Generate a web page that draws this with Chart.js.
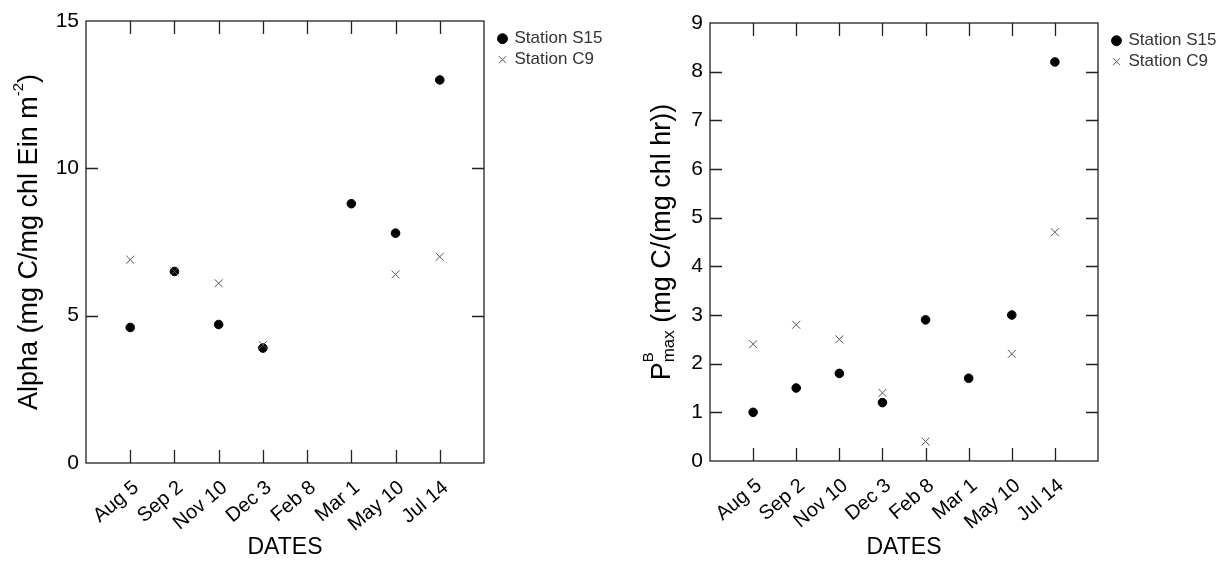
<!DOCTYPE html>
<html>
<head>
<meta charset="utf-8">
<script src="https://cdn.jsdelivr.net/npm/chart.js@4.4.1/dist/chart.umd.min.js"></script>
<style>
  html, body { margin: 0; padding: 0; background: #fff; }
  .box { position: absolute; top: 0; width: 614px; height: 561px; }
</style>
</head>
<body>
<div class="box" style="left:0"><canvas id="alphaChart" width="614" height="561"></canvas></div>
<div class="box" style="left:614px"><canvas id="pmaxChart" width="614" height="561"></canvas></div>
<script>
// sampling dates (x axis tick labels)
const dates = ['Aug 5', 'Sep 2', 'Nov 10', 'Dec 3', 'Feb 8', 'Mar 1', 'May 10', 'Jul 14'];

// Alpha (mg C/mg chl Ein m-2)
const alphaS15 = [4.6, 6.5, 4.7, 3.9, null, 8.8, 7.8, 13.0];
const alphaC9  = [6.9, 6.5, 6.1, 4.0, null, null, 6.4, 7.0];

// P^B max (mg C/(mg chl hr))
const pmaxS15 = [1.0, 1.5, 1.8, 1.2, 2.9, 1.7, 3.0, 8.2];
const pmaxC9  = [2.4, 2.8, 2.5, 1.4, 0.4, null, 2.2, 4.7];

const FONT = '"Liberation Sans", Arial, Helvetica, sans-serif';

// each date sits on a whole number, with one empty slot at both ends
const toPoints = vals => vals
  .map((v, i) => (v == null ? null : { x: i + 1, y: v }))
  .filter(p => p);

// closed frame with inward tick marks on all four sides
const framePlugin = {
  id: 'frame',
  afterDatasetsDraw(chart) {
    const { ctx, chartArea: a, scales: { x, y } } = chart;
    ctx.save();
    ctx.strokeStyle = '#222';
    ctx.lineWidth = 1.3;
    ctx.strokeRect(a.left, a.top, a.right - a.left, a.bottom - a.top);
    ctx.beginPath();
    x.ticks.forEach(t => {
      if (t.value <= x.min || t.value >= x.max) return;
      const px = Math.round(x.getPixelForValue(t.value)) + 0.5;
      ctx.moveTo(px, a.bottom); ctx.lineTo(px, a.bottom - 13);
      ctx.moveTo(px, a.top); ctx.lineTo(px, a.top + 13);
    });
    y.ticks.forEach(t => {
      if (t.value <= y.min || t.value >= y.max) return;
      const py = Math.round(y.getPixelForValue(t.value)) + 0.5;
      ctx.moveTo(a.left, py); ctx.lineTo(a.left + 12, py);
      ctx.moveTo(a.right, py); ctx.lineTo(a.right - 12, py);
    });
    ctx.stroke();
    ctx.restore();
  }
};

// rotated y title with super/subscripts
const yTitlePlugin = {
  id: 'yTitle',
  afterDraw(chart, args, opts) {
    const { ctx, chartArea: a } = chart;
    const parts = opts.parts || [];
    ctx.save();
    ctx.translate(opts.x, (a.top + a.bottom) / 2);
    ctx.rotate(-Math.PI / 2);
    ctx.fillStyle = '#000';
    ctx.textBaseline = 'alphabetic';
    ctx.textAlign = 'left';
    const widths = parts.map(p => { ctx.font = p.size + 'px ' + FONT; return ctx.measureText(p.text).width; });
    const xs = [];
    let pos = 0, held = 0;
    parts.forEach((p, i) => {
      xs.push(pos);
      if (p.hold) { held = widths[i]; }
      else { pos += Math.max(widths[i], held); held = 0; }
    });
    parts.forEach((p, i) => {
      ctx.font = p.size + 'px ' + FONT;
      ctx.fillText(p.text, xs[i] - pos / 2, p.dy || 0);
    });
    ctx.restore();
  }
};

function makeChart(id, s15, c9, yMax, yStep, area, title) {
  const chart = new Chart(document.getElementById(id), {
    type: 'scatter',
    data: {
      datasets: [
        {
          label: 'Station S15',
          data: toPoints(s15),
          pointStyle: 'circle',
          pointRadius: 4.3,
          backgroundColor: '#000',
          borderColor: '#000',
          borderWidth: 1,
          order: 1
        },
        {
          label: 'Station C9',
          data: toPoints(c9),
          pointStyle: 'crossRot',
          pointRadius: 5.6,
          backgroundColor: '#555',
          borderColor: '#555',
          borderWidth: 1,
          order: 0
        }
      ]
    },
    options: {
      responsive: false,
      animation: false,
      events: [],
      layout: { padding: { left: 0, top: area.top, right: 0, bottom: 0 } },
      scales: {
        x: {
          type: 'linear',
          min: 0,
          max: dates.length + 1,
          grid: { display: false, drawTicks: false },
          border: { display: false },
          ticks: {
            stepSize: 1,
            autoSkip: false,
            minRotation: 40,
            maxRotation: 40,
            padding: 13,
            labelOffset: 6,
            color: '#000',
            font: { size: 20, family: FONT },
            callback: v => dates[v - 1] || ''
          },
          title: {
            display: true,
            text: 'DATES',
            color: '#000',
            font: { size: 23, family: FONT },
            padding: { top: 0, bottom: 0 }
          },
          afterFit: s => { s.height = 561 - area.bottom; }
        },
        y: {
          min: 0,
          max: yMax,
          grid: { display: false, drawTicks: false },
          border: { display: false },
          ticks: {
            stepSize: yStep,
            padding: 7,
            color: '#000',
            font: { size: 21, family: FONT }
          },
          afterFit: s => { s.width = area.left; }
        },
        // empty strip between the frame and the legend
        gap: {
          position: 'right',
          grid: { display: false, drawTicks: false },
          border: { display: false },
          ticks: { display: false },
          afterFit: s => { s.width = 11; }
        }
      },
      plugins: {
        tooltip: { enabled: false },
        legend: {
          position: 'right',
          align: 'start',
          maxWidth: 200,
          title: { display: true, text: ' ', font: { size: 1 }, padding: { top: 2, bottom: 2 } },
          labels: {
            usePointStyle: true,
            boxWidth: 7,
            boxHeight: 7,
            padding: 4,
            color: '#333',
            font: { size: 17, family: FONT },
            sort: (a, b) => a.datasetIndex - b.datasetIndex
          }
        },
        yTitle: title
      }
    },
    plugins: [framePlugin, yTitlePlugin]
  });
  // push the legend out so the plot frame ends where it should
  chart.options.layout.padding.right += chart.chartArea.right - area.right;
  chart.update('none');
  return chart;
}

makeChart('alphaChart', alphaS15, alphaC9, 15, 5,
  { left: 86, right: 484, top: 21, bottom: 463 },
  {
    x: 37,
    parts: [
      { text: 'Alpha (mg C/mg chl Ein m', size: 27 },
      { text: '-2', size: 15, dy: -14 },
      { text: ')', size: 27 }
    ]
  });

makeChart('pmaxChart', pmaxS15, pmaxC9, 9, 1,
  { left: 96, right: 484, top: 23, bottom: 461 },
  {
    x: 56,
    parts: [
      { text: 'P', size: 27 },
      { text: 'B', size: 15, dy: -17, hold: true },
      { text: 'max', size: 17, dy: 4 },
      { text: ' (mg C/(mg chl hr))', size: 27 }
    ]
  });
</script>
</body>
</html>
